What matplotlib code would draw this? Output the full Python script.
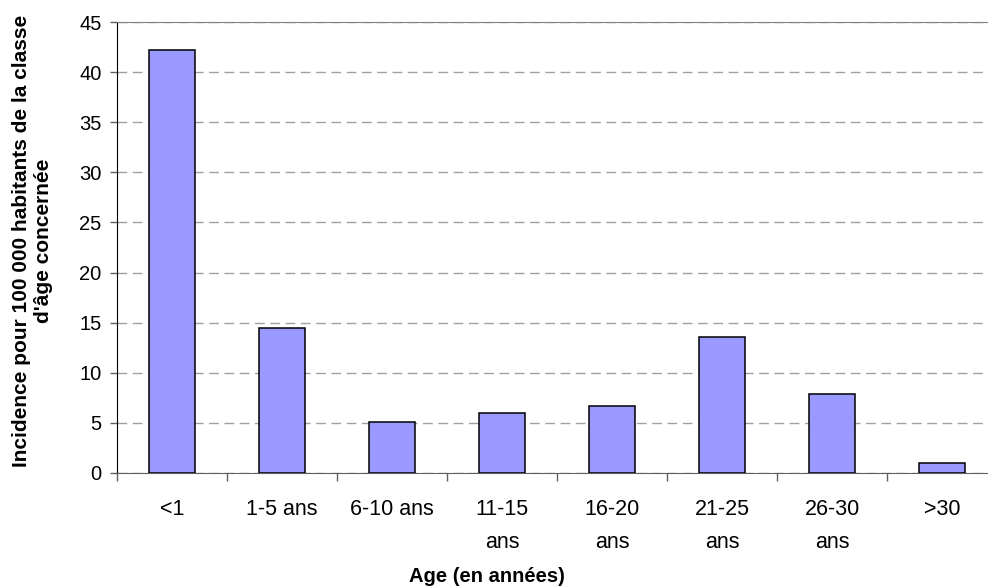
import matplotlib.pyplot as plt
import numpy as np

plt.rcParams['font.family'] = ['Liberation Sans', 'DejaVu Sans']

# Incidence par classe d'âge
categories = ["<1", "1-5 ans", "6-10 ans", "11-15\nans", "16-20\nans",
              "21-25\nans", "26-30\nans", ">30"]
incidence = [42.2, 14.5, 5.1, 6.0, 6.7, 13.6, 7.9, 1.0]
y_ticks = [0, 5, 10, 15, 20, 25, 30, 35, 40, 45]

W, H = 988, 588
fig = plt.figure(figsize=(W / 100, H / 100), dpi=100)
# plot area runs slightly past the right edge, as in the original
ax = fig.add_axes([117 / W, 1 - 472.7 / H, (997 - 117) / W, (472.7 - 22.3) / H])

x = np.arange(len(categories))
ax.bar(x, incidence, width=0.42, color="#9999ff", edgecolor="black",
       linewidth=1.1, zorder=3)

ax.set_xlim(-0.5, len(categories) - 0.5)
ax.set_ylim(0, 45)
ax.set_yticks(y_ticks)
ax.yaxis.grid(True, color="#a0a0a0", linestyle=(0, (7, 4)), linewidth=1, zorder=0)
ax.set_axisbelow(True)

# labels centred on bars, tick marks on category boundaries
ax.set_xticks(x)
ax.set_xticklabels(categories, fontsize=15.5, linespacing=1.72, va="top")
ax.tick_params(axis="x", which="major", length=0, pad=19)
ax.set_xticks(np.arange(len(categories) + 1) - 0.5, minor=True)
ax.tick_params(axis="x", which="minor", length=6, width=1, color="#606060",
               direction="out")
ax.tick_params(axis="y", length=5, width=1, color="#606060", labelsize=14.5, pad=6)

ax.spines["left"].set_color("black")
ax.spines["bottom"].set_color("#606060")
ax.spines["top"].set_color("#808080")
ax.spines["right"].set_visible(False)

ax.set_ylabel("Incidence pour 100 000 habitants de la classe\nd'âge concernée",
              fontsize=15, fontweight="bold", linespacing=1.2)
ax.yaxis.set_label_coords(-0.073, 0.515)
ax.set_xlabel("Age (en années)", fontsize=14.5, fontweight="bold", va="center")
ax.xaxis.set_label_coords((487 - 117) / (997 - 117), -(577 - 472.7) / (472.7 - 22.3))

fig.savefig("out.png", dpi=100)
